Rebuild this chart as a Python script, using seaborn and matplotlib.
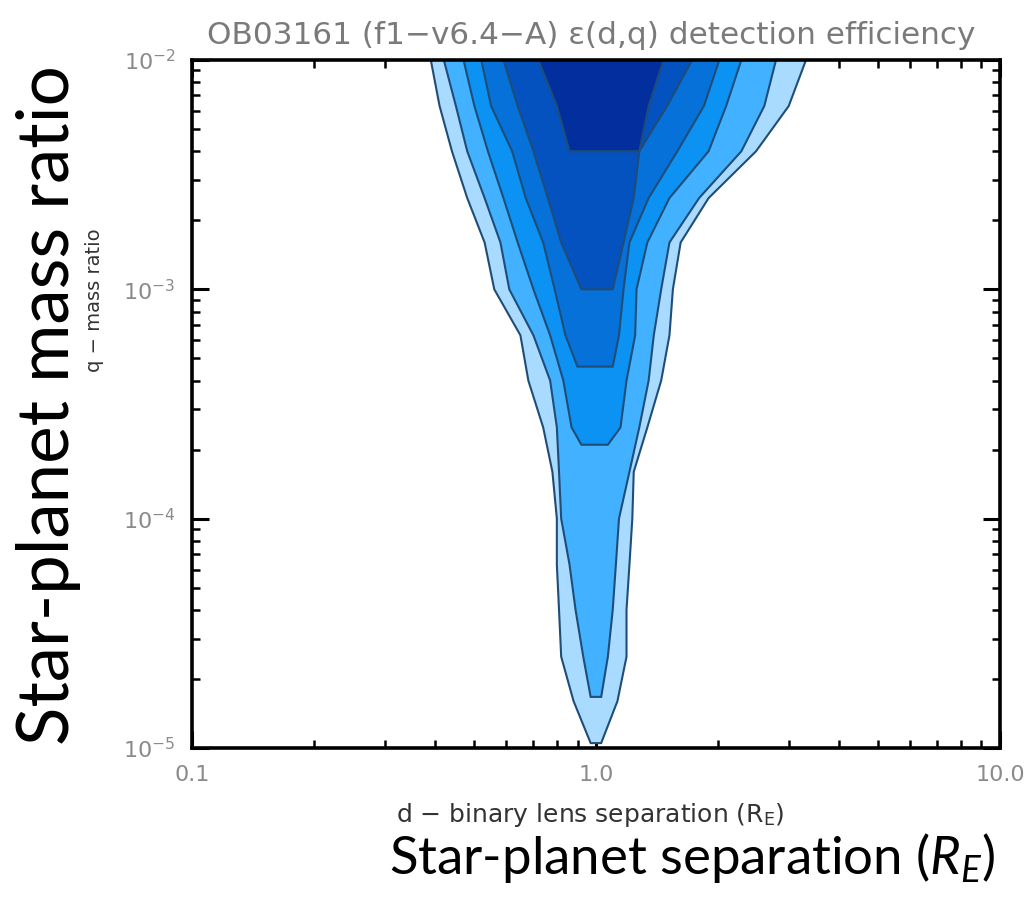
import matplotlib
matplotlib.use("Agg")
import matplotlib.pyplot as plt
import matplotlib.ticker as mticker
import seaborn as sns

# Mass-ratio rows (top to bottom) at which contour edges are tabulated
Q_ROWS = [1.0e-2, 6.3e-3, 4.0e-3, 2.5e-3, 1.6e-3, 1.0e-3, 6.3e-4, 4.0e-4,
          2.5e-4, 1.6e-4, 1.0e-4, 6.3e-5, 4.0e-5, 2.5e-5, 1.6e-5]

# Efficiency contours, outermost first: left / right separation edge per row,
# and the lowest point (q, d_left, d_right) where each region closes.
D_LEFT_1 = [0.39, 0.41, 0.44, 0.48, 0.53, 0.56, 0.65, 0.68, 0.74, 0.78, 0.80, 0.80, 0.81, 0.82, 0.88]
D_RIGHT_1 = [3.31, 3.00, 2.49, 1.90, 1.62, 1.55, 1.52, 1.45, 1.34, 1.24, 1.23, 1.21, 1.19, 1.19, 1.13]
BOTTOM_1 = (1.05e-5, 0.97, 1.03)

D_LEFT_2 = [0.42, 0.45, 0.48, 0.53, 0.58, 0.61, 0.70, 0.77, 0.80, 0.81, 0.82, 0.86, 0.89, 0.93]
D_RIGHT_2 = [2.79, 2.61, 2.29, 1.80, 1.52, 1.45, 1.39, 1.35, 1.28, 1.21, 1.14, 1.12, 1.10, 1.07]
BOTTOM_2 = (1.67e-5, 0.97, 1.03)

D_LEFT_3 = [0.47, 0.50, 0.54, 0.59, 0.64, 0.70, 0.77, 0.83, 0.87]
D_RIGHT_3 = [2.29, 2.10, 1.90, 1.52, 1.34, 1.26, 1.25, 1.19, 1.15]
BOTTOM_3 = (2.1e-4, 0.92, 1.07)

D_LEFT_4 = [0.52, 0.55, 0.62, 0.67, 0.74, 0.79, 0.84]
D_RIGHT_4 = [2.02, 1.85, 1.59, 1.35, 1.21, 1.17, 1.14]
BOTTOM_4 = (4.6e-4, 0.90, 1.10)

D_LEFT_5 = [0.59, 0.64, 0.70, 0.76, 0.82]
D_RIGHT_5 = [1.73, 1.50, 1.28, 1.24, 1.17]
BOTTOM_5 = (1.0e-3, 0.92, 1.10)

D_LEFT_6 = [0.72, 0.80]
D_RIGHT_6 = [1.47, 1.35]
BOTTOM_6 = (4.0e-3, 0.86, 1.28)

FILL_COLORS = ["#a8dbff", "#42b1ff", "#0b92f2", "#0571d9", "#0451c0", "#022e9e"]

X_TICKS = [0.1, 1.0, 10.0]
X_TICK_LABELS = ["0.1", "1.0", "10.0"]
Y_TICKS = [1e-5, 1e-4, 1e-3, 1e-2]

sns.set_theme(style="ticks")
plt.rcParams["font.family"] = ["DejaVu Sans"]
plt.rcParams["mathtext.fontset"] = "custom"
plt.rcParams["mathtext.rm"] = "Lato"
plt.rcParams["mathtext.it"] = "Lato:italic"

fig = plt.figure(figsize=(10.29, 8.99), dpi=100)
ax = fig.add_axes([0.1866, 0.168, 0.7852, 0.7653])
ax.set_xscale("log")
ax.set_yscale("log")

regions = [
    (D_LEFT_1, D_RIGHT_1, BOTTOM_1),
    (D_LEFT_2, D_RIGHT_2, BOTTOM_2),
    (D_LEFT_3, D_RIGHT_3, BOTTOM_3),
    (D_LEFT_4, D_RIGHT_4, BOTTOM_4),
    (D_LEFT_5, D_RIGHT_5, BOTTOM_5),
    (D_LEFT_6, D_RIGHT_6, BOTTOM_6),
]
for (left, right, bottom), color in zip(regions, FILL_COLORS):
    rows = Q_ROWS[:len(left)]
    qb, dlo, dhi = bottom
    xs = list(left) + [dlo, dhi] + list(right)[::-1]
    ys = list(rows) + [qb, qb] + list(rows)[::-1]
    ax.fill(xs, ys, facecolor=color, edgecolor="#1f4d78", linewidth=1.5, zorder=1)

ax.set_xlim(0.1, 10.0)
ax.set_ylim(1e-5, 1e-2)

for s in ax.spines.values():
    s.set_linewidth(2.6)
    s.set_color("black")
    s.set_zorder(5)

ax.set_xticks(X_TICKS)
ax.set_xticklabels(X_TICK_LABELS)
ax.set_yticks(Y_TICKS)
ax.yaxis.set_major_formatter(mticker.LogFormatterMathtext())
ax.xaxis.set_minor_locator(mticker.LogLocator(base=10, subs=range(2, 10)))
ax.yaxis.set_minor_locator(mticker.LogLocator(base=10, subs=range(2, 10)))
ax.xaxis.set_minor_formatter(mticker.NullFormatter())
ax.yaxis.set_minor_formatter(mticker.NullFormatter())
ax.tick_params(which="both", direction="in", top=True, right=True, color="black")
ax.tick_params(which="major", length=12, width=2.2, labelsize=16,
               labelcolor="#8a8a8a", pad=12)
ax.tick_params(which="minor", length=6, width=1.8)
for lab in ax.get_xticklabels():
    lab.set_family(["Liberation Sans Narrow", "DejaVu Sans"])

fig.text(0.575, 0.961, "OB03161 (f1\u2212v6.4\u2212A) \u03b5(d,q) detection efficiency",
         ha="center", va="center", fontsize=22.4, color="#7a7a7a")
fig.text(0.574, 0.0934, "d \u2212 binary lens separation (R$_\\mathregular{E}$)",
         ha="center", va="center", fontsize=18, color="#333333")
fig.text(0.0914, 0.666, "q \u2212 mass ratio", rotation=90,
         ha="center", va="center", fontsize=14, color="#333333")

fig.text(0.0467, 0.5495, "Star-planet mass ratio", rotation=90,
         ha="center", va="center", fontsize=51, family="Lato", color="black")
fig.text(0.673, 0.0456, "Star-planet separation ($\\mathit{R_E}$)",
         ha="center", va="center", fontsize=38, family="Lato", color="black")

fig.savefig("out.png", dpi=100)
